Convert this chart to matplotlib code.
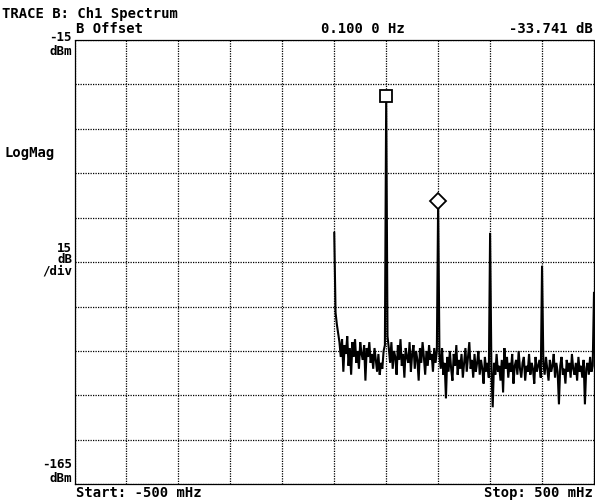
import numpy as np
import matplotlib
matplotlib.use("Agg")
import matplotlib.pyplot as plt

# ---- data ----
x_start_mhz = -500
x_stop_mhz = 500
y_top_dbm = -15
y_bottom_dbm = -165
db_per_div = 15

peak_freqs_mhz = [0, 100, 200, 300, 400, 500]
peak_levels_dbm = [-80.1, -33.741, -69.3, -80.1, -91.2, -100.4]

seg0 = [-107, -111, -114, -117, -122, -116, -127, -118, -121, -115, -125, -119, -128,
        -117, -122, -116, -124, -120, -126, -117, -121, -123, -118, -130, -119, -122,
        -117, -124, -121, -126, -119, -123, -127, -121, -128, -124, -126, -120, -118]
seg1 = [-115, -119, -124, -117, -126, -120, -122, -128, -118, -123, -116, -125, -121,
        -129, -119, -122, -124, -117, -127, -121, -118, -126, -120, -123, -130, -119,
        -124, -117, -122, -128, -120, -125, -118, -123, -121, -127, -119, -124, -120]
seg2 = [-121, -126, -119, -128, -124, -136, -122, -127, -120, -126, -130, -121, -125,
        -118, -128, -123, -126, -121, -129, -124, -119, -127, -122, -117, -126, -123,
        -129, -121, -127, -124, -120, -128, -123, -126, -131, -122, -127, -124, -129]
seg3 = [-126, -139, -124, -128, -121, -127, -125, -130, -123, -134, -119, -126, -122,
        -129, -124, -127, -121, -131, -125, -123, -128, -120, -126, -129, -124, -122,
        -130, -125, -127, -121, -128, -124, -126, -131, -122, -127, -125, -123, -129]
seg4 = [-124, -128, -122, -126, -130, -123, -127, -125, -121, -129, -124, -127, -138,
        -125, -122, -128, -126, -131, -123, -127, -124, -129, -121, -126, -128, -124,
        -130, -122, -127, -125, -129, -123, -138, -126, -124, -128, -122, -127, -125]
noise_segments = [seg0, seg1, seg2, seg3, seg4]

square_marker = (100, -33.741)
diamond_marker = (200, -69.3)

# ---- build trace ----
freqs = [peak_freqs_mhz[0]]
levels = [peak_levels_dbm[0]]
for i, seg in enumerate(noise_segments):
    f0, f1 = peak_freqs_mhz[i], peak_freqs_mhz[i + 1]
    fsx = np.linspace(f0, f1, len(seg) + 2)[1:-1]
    freqs.extend(fsx)
    levels.extend(seg)
    freqs.append(f1)
    levels.append(peak_levels_dbm[i + 1])
freqs = np.array(freqs)
levels = np.array(levels)

# ---- figure ----
W, H = 595, 504
fig = plt.figure(figsize=(W / 100, H / 100), dpi=100)
fig.patch.set_facecolor("white")

left_px, right_px, top_px, bottom_px = 74.5, 594, 40, 484.3
ax = fig.add_axes([left_px / W, 1 - bottom_px / H,
                   (right_px - left_px) / W, (bottom_px - top_px) / H])
ax.set_xlim(x_start_mhz, x_stop_mhz)
ax.set_ylim(y_bottom_dbm, y_top_dbm)
ax.set_xticks(np.arange(x_start_mhz, x_stop_mhz + 1, 100))
ax.set_yticks(np.arange(y_bottom_dbm, y_top_dbm + 1, db_per_div))
ax.tick_params(length=0, labelbottom=False, labelleft=False)
ax.grid(True, color="black", linestyle=(0, (1, 1)), linewidth=0.9)
for s in ax.spines.values():
    s.set_linestyle((0, (1, 1)))
    s.set_linewidth(0.9)
    s.set_color("black")

ax.plot(freqs, levels, color="black", linewidth=1.5, solid_joinstyle="miter", zorder=3)
ax.plot(*square_marker, marker="s", markersize=8, markerfacecolor="white",
        markeredgecolor="black", markeredgewidth=1.3, zorder=4)
ax.plot(*diamond_marker, marker="D", markersize=8.5, markerfacecolor="white",
        markeredgecolor="black", markeredgewidth=1.3, zorder=4)

fam = ["DejaVu Sans Mono"]
fsz = 10


def ftxt(xp, yp, s, ha="left", va="top", size=fsz, ls=1.2):
    fig.text(xp / W, 1 - yp / H, s, ha=ha, va=va, fontsize=size, family=fam,
             fontweight="bold", linespacing=ls, multialignment="right")


ftxt(2, 7, "TRACE B: Ch1 Spectrum")
ftxt(76, 22, "B Offset")
ftxt(321, 22, "0.100 0 Hz")
ftxt(593, 22, "-33.741 dB", ha="right")
ftxt(72, 31, "-15\ndBm", ha="right", size=9, ls=1.1)
ftxt(4, 146, "LogMag")
ftxt(72, 242, "15\ndB\n/div", ha="right", size=9, ls=0.8)
ftxt(72, 458, "-165\ndBm", ha="right", size=9, ls=1.1)
ftxt(76, 486, "Start: -500 mHz")
ftxt(593, 486, "Stop: 500 mHz", ha="right")

fig.savefig("out.png", dpi=100, facecolor="white")
